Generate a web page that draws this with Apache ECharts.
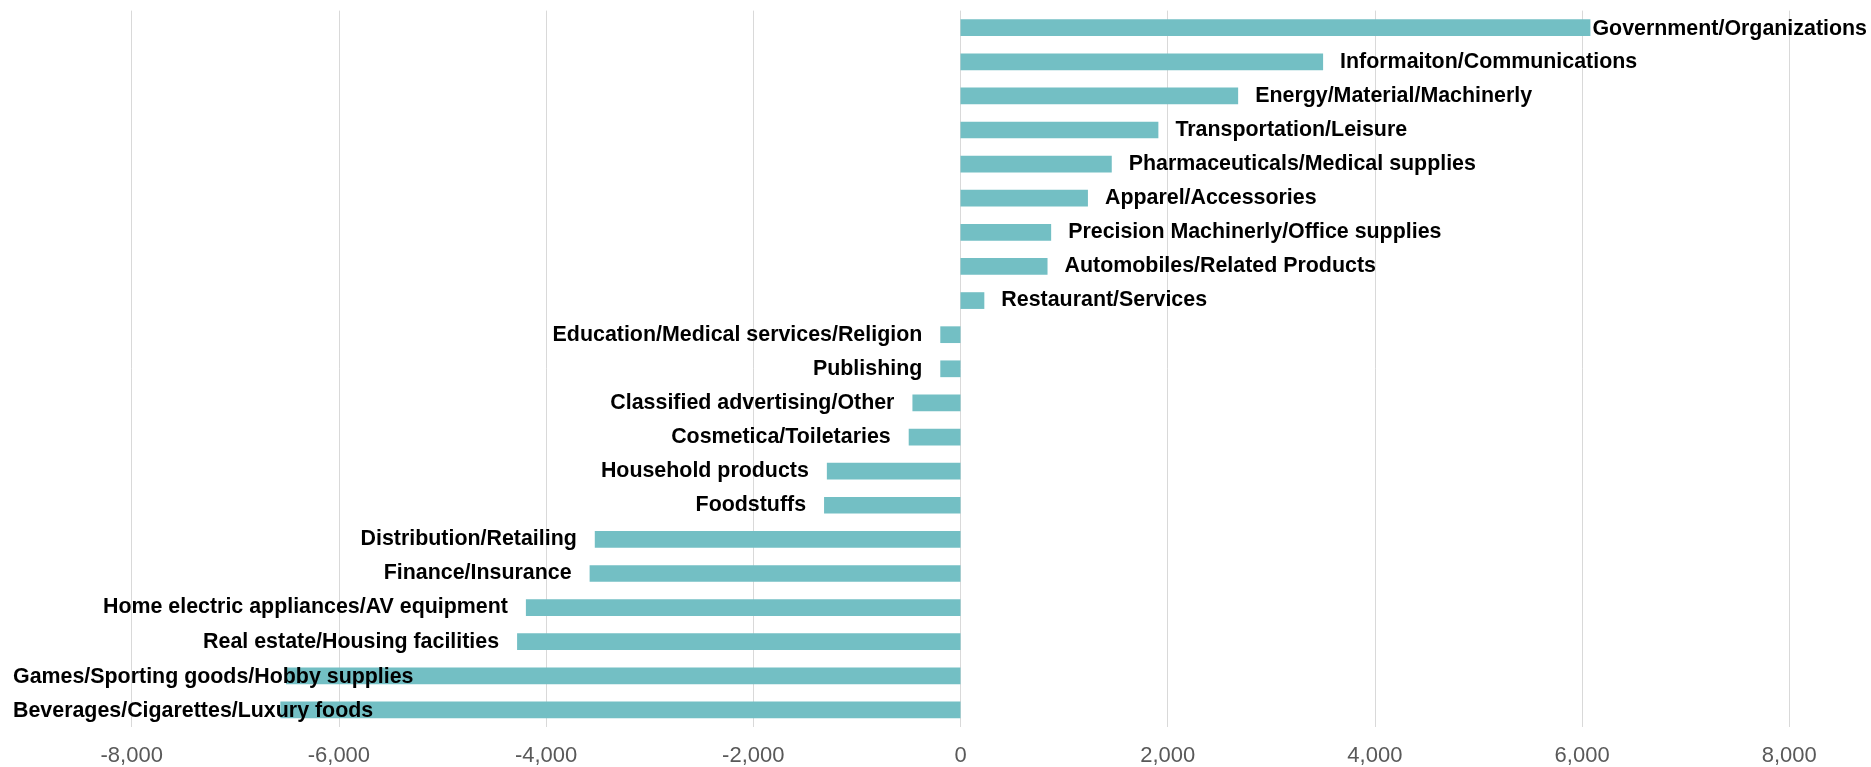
<!DOCTYPE html>
<html>
<head>
<meta charset="utf-8">
<script src="https://cdn.jsdelivr.net/npm/echarts@6/dist/echarts.min.js"></script>
<style>
html, body { margin: 0; padding: 0; background: #ffffff; }
#chart { width: 1871px; height: 767px; }
</style>
</head>
<body>
<div id="chart"></div>
<script>
const categories = [
  "Government/Organizations",
  "Informaiton/Communications",
  "Energy/Material/Machinerly",
  "Transportation/Leisure",
  "Pharmaceuticals/Medical supplies",
  "Apparel/Accessories",
  "Precision Machinerly/Office supplies",
  "Automobiles/Related Products",
  "Restaurant/Services",
  "Education/Medical services/Religion",
  "Publishing",
  "Classified advertising/Other",
  "Cosmetica/Toiletaries",
  "Household products",
  "Foodstuffs",
  "Distribution/Retailing",
  "Finance/Insurance",
  "Home electric appliances/AV equipment",
  "Real estate/Housing facilities",
  "Games/Sporting goods/Hobby supplies",
  "Beverages/Cigarettes/Luxury foods"
];
const values = [
  6080, 3500, 2680, 1910, 1460, 1230, 875, 840, 230,
  -195, -195, -464, -500, -1290, -1317, -3530, -3580, -4195, -4280, -6510, -6565
];
const xTicks = { min: -8000, max: 8000, step: 2000 };

const chart = echarts.init(document.getElementById('chart'), null, { renderer: 'canvas' });
const FONT = '"Liberation Sans", Arial, sans-serif';

const data = values.map(v => ({
  value: v,
  label: { position: v >= 0 ? 'right' : 'left', distance: v >= 0 ? 17 : 18 }
}));

chart.setOption({
  backgroundColor: '#ffffff',
  animation: false,
  grid: { left: 131.7, right: 81.7, top: 10.6, bottom: 37.1, containLabel: false },
  xAxis: {
    type: 'value',
    min: xTicks.min,
    max: xTicks.max,
    interval: xTicks.step,
    axisLine: { show: false },
    axisTick: { show: false },
    splitLine: { show: true, lineStyle: { color: '#d9d9d9', width: 1 } },
    axisLabel: {
      fontFamily: FONT,
      fontSize: 22,
      color: '#595959',
      margin: 18,
      formatter: v => v.toLocaleString('en-US')
    }
  },
  yAxis: {
    type: 'category',
    inverse: true,
    data: categories,
    axisLine: { show: false },
    axisTick: { show: false },
    axisLabel: { show: false },
    splitLine: { show: false }
  },
  series: [{
    type: 'bar',
    data: data,
    barCategoryGap: '51%',
    itemStyle: { color: '#73bfc4' },
    label: {
      show: true,
      formatter: '{b}',
      fontFamily: FONT,
      fontWeight: 'bold',
      fontSize: 21.4,
      color: '#000000',
      offset: [0, 1.5]
    },
    labelLayout: function (p) {
      const r = p.labelRect;
      const W = chart.getWidth();
      const cy = r.y + r.height / 2;
      if (r.x < 13) {
        return { x: 13, y: cy, align: 'left', verticalAlign: 'middle' };
      }
      if (r.x + r.width > W - 4) {
        return { x: W - 4, y: cy, align: 'right', verticalAlign: 'middle' };
      }
      return {};
    }
  }]
});
</script>
</body>
</html>
